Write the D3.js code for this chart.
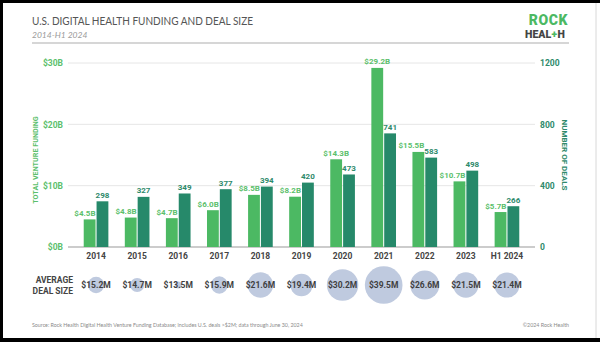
<!DOCTYPE html>
<html>
<head>
<meta charset="utf-8">
<script src="https://cdn.jsdelivr.net/npm/d3@7"></script>
<style>
  body { margin: 0; background: #000; }
  svg { display: block; }
</style>
</head>
<body>
<div id="chart"></div>
<script>
// values
const years = ['2014', '2015', '2016', '2017', '2018', '2019', '2020', '2021', '2022', '2023', 'H1 2024'];
const funding = [4.5, 4.8, 4.7, 6.0, 8.5, 8.2, 14.3, 29.2, 15.5, 10.7, 5.7];   // $B
const deals = [298, 327, 349, 377, 394, 420, 473, 741, 583, 498, 266];
const dealSize = [15.2, 14.7, 13.5, 15.9, 21.6, 19.4, 30.2, 39.5, 26.6, 21.5, 21.4]; // $M
const fundingTicks = [0, 10, 20, 30];
const dealTicks = [0, 400, 800, 1200];

const W = 600, H = 342;
const lightGreen = '#4cb963', darkGreen = '#26896a';
const lightText = '#5cbf6c', darkText = '#2e8a6b';
const chartFont = 'Roboto, sans-serif';

const svg = d3.select('#chart').append('svg')
  .attr('width', W).attr('height', H);

// page frame
svg.append('rect').attr('width', W).attr('height', H).attr('fill', '#000');
svg.append('rect').attr('x', 3).attr('y', 3).attr('width', W - 3).attr('height', 335).attr('fill', '#fff');
svg.append('line').attr('x1', 596).attr('x2', 596).attr('y1', 3).attr('y2', 338)
  .attr('stroke', '#d8d8d8').attr('stroke-width', 1);

// header
svg.append('text').attr('x', 32).attr('y', 25)
  .attr('font-family', 'Lato, sans-serif').attr('font-size', 10.5).attr('fill', '#555')
  .attr('textLength', 221).attr('lengthAdjust', 'spacingAndGlyphs')
  .text('U.S. DIGITAL HEALTH FUNDING AND DEAL SIZE');
svg.append('text').attr('x', 32).attr('y', 38)
  .attr('font-family', 'Lato, sans-serif').attr('font-style', 'italic')
  .attr('font-size', 8.5).attr('fill', '#9a9a9a')
  .text('2014-H1 2024');
svg.append('line').attr('x1', 32).attr('x2', 569).attr('y1', 43).attr('y2', 43)
  .attr('stroke', '#c8c8c8').attr('stroke-width', 1.5);

// logo: ROCK / HEAL+H, each piece its own text so nothing overlaps
svg.append('text').attr('x', 568).attr('y', 24.5).attr('text-anchor', 'end')
  .attr('font-family', chartFont).attr('font-weight', 900).attr('font-size', 14)
  .attr('letter-spacing', 0.6).attr('fill', '#4cb963')
  .text('ROCK');
const logoParts = [['HEAL', '#444'], ['+', '#4cb963'], ['H', '#444']];
let lx = 525;
logoParts.forEach(([t, c]) => {
  const el = svg.append('text').attr('x', lx).attr('y', 38)
    .attr('font-family', chartFont).attr('font-weight', 900).attr('font-size', 10.5)
    .attr('fill', c).text(t);
  lx += el.node().getComputedTextLength() + 0.4;
});

// scales
const x0 = d3.scaleBand().domain(years).range([75.5, 527.5]).paddingInner(0.4).paddingOuter(0.2);
const x1 = d3.scaleBand().domain(['funding', 'deals']).range([0, x0.bandwidth()]).paddingInner(0.08);
const yF = d3.scaleLinear().domain([0, 30]).range([247, 63]);
const yD = d3.scaleLinear().domain([0, 1200]).range([247, 63]);
const r = d3.scaleLinear().domain([13.5, 15, 22, 40]).range([3.5, 8, 13, 19]);

// gridlines
svg.append('g').selectAll('line').data(fundingTicks).join('line')
  .attr('x1', 68).attr('x2', 535)
  .attr('y1', d => yF(d)).attr('y2', d => yF(d))
  .attr('stroke', d => d === 0 ? '#9a9a9a' : '#e6e6e6')
  .attr('stroke-width', d => d === 0 ? 1.2 : 1);

// left axis
const leftAxis = svg.append('g').attr('transform', 'translate(68,0)')
  .call(d3.axisLeft(yF).tickValues(fundingTicks).tickSize(0).tickPadding(5).tickFormat(d => `$${d}B`));
leftAxis.select('.domain').remove();
leftAxis.selectAll('text')
  .attr('font-family', chartFont).attr('font-weight', 700).attr('font-size', 8.5).attr('fill', lightText);

// right axis
const rightAxis = svg.append('g').attr('transform', 'translate(535,0)')
  .call(d3.axisRight(yD).tickValues(dealTicks).tickSize(0).tickPadding(5).tickFormat(d3.format('d')));
rightAxis.select('.domain').remove();
rightAxis.selectAll('text')
  .attr('font-family', chartFont).attr('font-weight', 700).attr('font-size', 8.5).attr('fill', darkText);

// axis titles
svg.append('text').attr('transform', 'translate(38,160) rotate(-90)')
  .attr('text-anchor', 'middle').attr('font-family', chartFont).attr('font-weight', 700)
  .attr('font-size', 7.2).attr('fill', lightText)
  .text('TOTAL VENTURE FUNDING');
svg.append('text').attr('transform', 'translate(562,155) rotate(90)')
  .attr('text-anchor', 'middle').attr('font-family', chartFont).attr('font-weight', 700)
  .attr('font-size', 8).attr('fill', darkText)
  .text('NUMBER OF DEALS');

// x axis labels
const xAxis = svg.append('g').attr('transform', 'translate(0,247)')
  .call(d3.axisBottom(x0).tickSize(0).tickPadding(6));
xAxis.select('.domain').remove();
xAxis.selectAll('text')
  .attr('font-family', chartFont).attr('font-weight', 700).attr('font-size', 8.5).attr('fill', '#444');

// bars
const rows = years.map((y, i) => ({ year: y, funding: funding[i], deals: deals[i], size: dealSize[i] }));
const groups = svg.append('g').selectAll('g').data(rows).join('g')
  .attr('transform', d => `translate(${x0(d.year)},0)`);

groups.append('rect')
  .attr('x', x1('funding')).attr('width', x1.bandwidth())
  .attr('y', d => yF(d.funding)).attr('height', d => yF(0) - yF(d.funding))
  .attr('fill', lightGreen);
groups.append('rect')
  .attr('x', x1('deals')).attr('width', x1.bandwidth())
  .attr('y', d => yD(d.deals)).attr('height', d => yD(0) - yD(d.deals))
  .attr('fill', darkGreen);

// value labels; funding label centred when it clears the deals label, otherwise right-aligned
groups.append('text')
  .attr('font-family', chartFont).attr('font-weight', 700).attr('font-size', 8).attr('fill', lightText)
  .each(function (d) {
    const clear = yF(d.funding) < yD(d.deals) - 14;
    d3.select(this)
      .attr('text-anchor', clear ? 'middle' : 'end')
      .attr('x', clear ? x1('funding') + x1.bandwidth() / 2 : x1('funding') + x1.bandwidth())
      .attr('y', yF(d.funding) - 3.5);
  })
  .text(d => `$${d.funding.toFixed(1)}B`);
groups.append('text')
  .attr('text-anchor', 'middle')
  .attr('x', x1('deals') + x1.bandwidth() / 2)
  .attr('y', d => yD(d.deals) - 3.5)
  .attr('font-family', chartFont).attr('font-weight', 700).attr('font-size', 8).attr('fill', darkText)
  .text(d => d.deals);

// average deal size bubbles
const bubbles = svg.append('g').selectAll('g').data(rows).join('g')
  .attr('transform', d => `translate(${x0(d.year) + x0.bandwidth() / 2},285)`);
bubbles.append('circle').attr('r', d => r(d.size)).attr('fill', '#bfcadf');
bubbles.append('text').attr('text-anchor', 'middle').attr('dy', '0.35em')
  .attr('font-family', chartFont).attr('font-weight', 700).attr('font-size', 8.5).attr('fill', '#3f3f3f')
  .text(d => `$${d.size.toFixed(1)}M`);

const lbl = svg.append('text').attr('text-anchor', 'end')
  .attr('font-family', chartFont).attr('font-weight', 700).attr('font-size', 8.5).attr('fill', '#444');
lbl.append('tspan').attr('x', 73).attr('y', 283).text('AVERAGE');
lbl.append('tspan').attr('x', 73).attr('y', 293.5).text('DEAL SIZE');

// footer
svg.append('text').attr('x', 32).attr('y', 327)
  .attr('font-family', 'Lato, sans-serif').attr('font-size', 5.3).attr('fill', '#8a8a8a')
  .text('Source: Rock Health Digital Health Venture Funding Database; includes U.S. deals >$2M; data through June 30, 2024');
svg.append('text').attr('x', 569).attr('y', 327).attr('text-anchor', 'end')
  .attr('font-family', 'Lato, sans-serif').attr('font-size', 5.3).attr('fill', '#8a8a8a')
  .text('©2024 Rock Health');
</script>
</body>
</html>
